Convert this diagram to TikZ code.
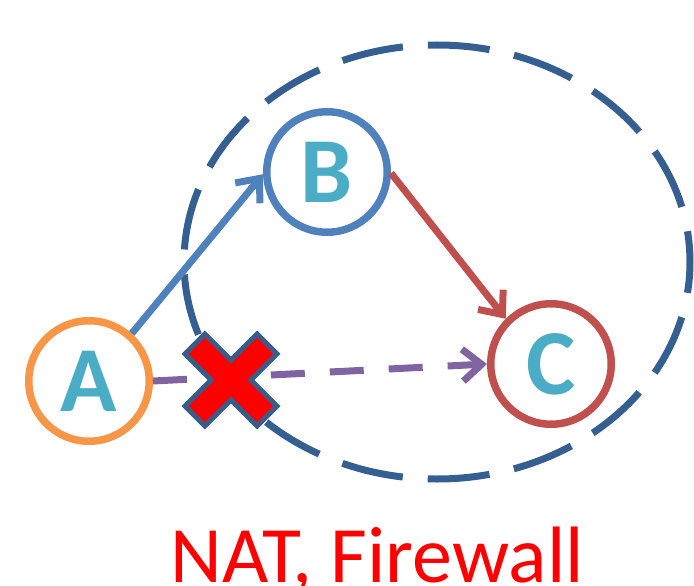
\documentclass[tikz,border=0pt]{standalone}
\usepackage{fontspec}
\setmainfont{Carlito}
\usetikzlibrary{arrows.meta}
\definecolor{aorange}{HTML}{F79646}
\definecolor{bblue}{HTML}{4F81BD}
\definecolor{cred}{HTML}{C0504D}
\definecolor{letter}{HTML}{4BACC6}
\definecolor{ellblue}{RGB}{54,95,145}
\definecolor{xborder}{HTML}{385D8A}
\definecolor{purp}{HTML}{8064A2}
\tikzset{
  circ/.style={circle, draw, line width=7.5pt, minimum size=120.5pt, inner sep=0pt,
    font=\fontsize{93}{93}\selectfont\bfseries, text=letter},
  barb/.style={-{Straight Barb[length=19pt,width=32pt]}},
  conn/.style={line width=7pt, barb},
  cloud/.style={draw=ellblue, line width=7pt, dash pattern=on 62pt off 25pt, dash phase=31pt},
  xmark/.style={fill=red, draw=xborder, line width=5pt, line join=miter}
}
\begin{document}
\begin{tikzpicture}[x=1pt,y=-1pt]
\useasboundingbox (0,0) rectangle (694,586);
% dashed ellipse
\draw[cloud] (437,262) ellipse [x radius=253, y radius=217];
% nodes
\node[circ, draw=aorange] (A) at (89,381) {A};
\node[circ, draw=bblue] (B) at (327,172) {B};
\node[circ, draw=cred] (C) at (551,364) {C};
% connectors
\draw[conn, bblue] (A.48) -- (B.182);
\draw[conn, cred] (B.359) -- (C.135);
\draw[conn, purp, dash pattern=on 34pt off 25pt] (A.0) -- (C.180);
% cross mark
\begin{scope}[shift={(231,380)}, rotate=45]
\draw[xmark] (14,14) -- (51,14) -- (51,-14) -- (14,-14) -- (14,-51) -- (-14,-51)
  -- (-14,-14) -- (-51,-14) -- (-51,14) -- (-14,14) -- (-14,51) -- (14,51) -- cycle;
\end{scope}
% label
\node[text=red, font=\fontsize{80}{80}\selectfont, anchor=base] (lbl) at (377,582) {NAT, Firewall};
\end{tikzpicture}
\end{document}
